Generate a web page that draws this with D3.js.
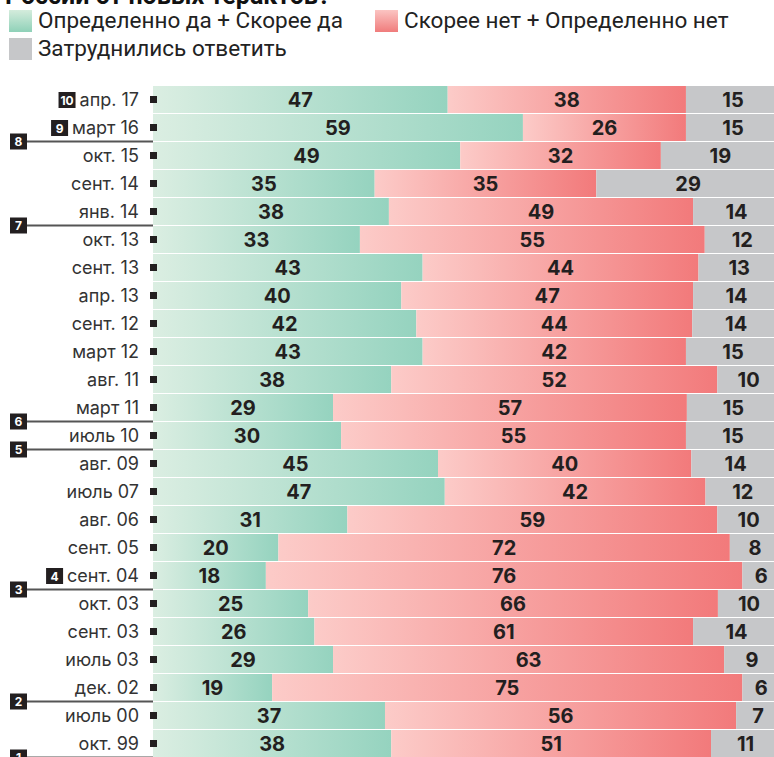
<!DOCTYPE html>
<html>
<head>
<meta charset="UTF-8">
<title>Теракты</title>
<script src="https://d3js.org/d3.v7.min.js"></script>
<style>
	body { margin: 0; background: #fff; overflow: hidden; }
	svg { display: block; }
</style>
</head>
<body>
	<svg id="chart"></svg>
	<script type="text/javascript">
		var periods = [ "апр. 17", "март 16", "окт. 15", "сент. 14", "янв. 14", "окт. 13", "сент. 13", "апр. 13",
				"сент. 12", "март 12", "авг. 11", "март 11", "июль 10", "авг. 09", "июль 07", "авг. 06", "сент. 05",
				"сент. 04", "окт. 03", "сент. 03", "июль 03", "дек. 02", "июль 00", "окт. 99" ];
		var yesValues = [ 47, 59, 49, 35, 38, 33, 43, 40, 42, 43, 38, 29, 30, 45, 47, 31, 20, 18, 25, 26, 29, 19, 37, 38 ];
		var noValues = [ 38, 26, 32, 35, 49, 55, 44, 47, 44, 42, 52, 57, 55, 40, 42, 59, 72, 76, 66, 61, 63, 75, 56, 51 ];
		var hardValues = [ 15, 15, 19, 29, 14, 12, 13, 14, 14, 15, 10, 15, 15, 14, 12, 10, 8, 6, 10, 14, 9, 6, 7, 11 ];
		var seriesNames = [ "Определенно да + Скорее да", "Скорее нет + Определенно нет", "Затруднились ответить" ];

		// номера событий: рядом с подписью или линией после строки
		var inlineMarks = [ { label: "10", period: "апр. 17" }, { label: "9", period: "март 16" }, { label: "4", period: "сент. 04" } ];
		var lineMarks = [ { label: "8", after: "март 16" }, { label: "7", after: "янв. 14" }, { label: "6", after: "март 11" },
				{ label: "5", after: "июль 10" }, { label: "3", after: "сент. 04" }, { label: "2", after: "дек. 02" },
				{ label: "1", after: "окт. 99" } ];

		var width = 774, height = 757;
		var barLeft = 153, barRight = 780;
		var chartTop = 86, rowH = 28;

		var svg = d3.select("#chart").attr("width", width).attr("height", height);
		var defs = svg.append("defs");

		function addGradient(id, from, to, vertical)
		{
			var g = defs.append("linearGradient").attr("id", id) //
			.attr("x1", 0).attr("y1", 0) //
			.attr("x2", vertical ? 0 : 1).attr("y2", vertical ? 1 : 0);
			g.append("stop").attr("offset", "0%").attr("stop-color", from);
			g.append("stop").attr("offset", "100%").attr("stop-color", to);
		}
		addGradient("gYes", "#dbeee2", "#95d3bf", false);
		addGradient("gNo", "#fccbc8", "#f27a7b", false);
		addGradient("gYesV", "#d4ecdc", "#8fd1b8", true);
		addGradient("gNoV", "#fbc4c2", "#f07c7c", true);

		var fills = [ "url(#gYes)", "url(#gNo)", "#c6c7c9" ];

		// заголовок (обрезан сверху)
		svg.append("text").attr("x", 5).attr("y", 4) //
		.style("font", "bold 25px Roboto, sans-serif").attr("fill", "#111") //
		.text("России от новых терактов?");

		// легенда
		var legendItems = [ { x: 9, y: 10, fill: "url(#gYesV)", name: seriesNames[0] },
				{ x: 375, y: 10, fill: "url(#gNoV)", name: seriesNames[1] },
				{ x: 9, y: 38, fill: "#c6c7c9", name: seriesNames[2] } ];
		var legend = svg.selectAll("g.legend").data(legendItems).enter().append("g").classed("legend", true);
		legend.append("rect").attr("x", function(d) { return d.x; }).attr("y", function(d) { return d.y; }) //
		.attr("width", 23).attr("height", 22).attr("fill", function(d) { return d.fill; });
		legend.append("text").attr("x", function(d) { return d.x + 29; }).attr("y", function(d) { return d.y + 18; }) //
		.style("font", "22.5px Roboto, sans-serif").attr("fill", "#222") //
		.text(function(d) { return d.name; });

		var dataset = periods.map(function(p, i)
		{
			return { period: p, values: [ yesValues[i], noValues[i], hardValues[i] ] };
		});

		var y = d3.scaleBand().domain(periods).range([ chartTop, chartTop + rowH * periods.length ]).paddingInner(0);
		var x = d3.scaleLinear().domain([ 0, 1 ]).range([ barLeft, barRight ]);

		var rows = svg.selectAll("g.row").data(dataset).enter().append("g").classed("row", true) //
		.attr("transform", function(d) { return "translate(0," + y(d.period) + ")"; });

		var segs = rows.selectAll("g.seg").data(function(d)
		{
			var total = d3.sum(d.values), acc = 0;
			return d.values.map(function(v, k)
			{
				var s = { k: k, v: v, x0: acc / total, x1: (acc + v) / total };
				acc += v;
				return s;
			});
		}).enter().append("g").classed("seg", true);

		segs.append("rect") //
		.attr("x", function(d) { return x(d.x0); }) //
		.attr("width", function(d) { return x(d.x1) - x(d.x0); }) //
		.attr("y", 0).attr("height", y.bandwidth() - 1) //
		.attr("fill", function(d) { return fills[d.k]; });

		segs.append("text") //
		.attr("x", function(d) { return (x(d.x0) + x(d.x1)) / 2; }) //
		.attr("y", y.bandwidth() / 2 + 7) //
		.attr("text-anchor", "middle") //
		.style("font", "bold 20px Inter, sans-serif").attr("fill", "#231f20") //
		.text(function(d) { return d.v; });

		// подписи оси и маркеры
		var labels = svg.selectAll("text.axis").data(periods).enter().append("text").classed("axis", true) //
		.attr("x", 139).attr("y", function(d) { return y(d) + y.bandwidth() / 2 + 6; }) //
		.attr("text-anchor", "end") //
		.style("font", "18px Inter, sans-serif").attr("fill", "#333") //
		.text(function(d) { return d; });

		svg.selectAll("rect.tick").data(periods).enter().append("rect").classed("tick", true) //
		.attr("x", 150).attr("y", function(d) { return y(d) + y.bandwidth() / 2 - 4; }) //
		.attr("width", 7).attr("height", 7).attr("fill", "#231f20");

		function drawBadge(bx, cy, label)
		{
			var w = 17;
			svg.append("rect").attr("x", bx).attr("y", cy - 8).attr("width", w).attr("height", 16).attr("fill", "#231f20");
			svg.append("text").attr("x", bx + w / 2).attr("y", cy + 4.5).attr("text-anchor", "middle") //
			.style("font", "bold 12px Inter, sans-serif").attr("fill", "#fff").text(label);
		}

		lineMarks.forEach(function(m)
		{
			var ly = y(m.after) + y.bandwidth() - 0.5;
			svg.append("line").attr("x1", 27).attr("x2", barLeft).attr("y1", ly).attr("y2", ly) //
			.attr("stroke", "#555").attr("stroke-width", 2);
			drawBadge(10, ly, m.label);
		});

		inlineMarks.forEach(function(m)
		{
			var node = labels.filter(function(d) { return d == m.period; }).node();
			var bb = node.getBBox();
			drawBadge(bb.x - 21, y(m.period) + y.bandwidth() / 2, m.label);
		});
	</script>
</body>
</html>
